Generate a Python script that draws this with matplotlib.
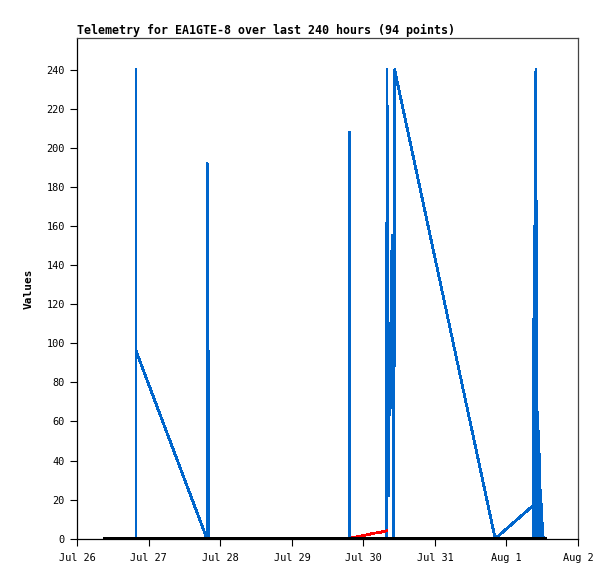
import matplotlib
matplotlib.use("Agg")
import matplotlib.pyplot as plt
import matplotlib.dates as mdates
from datetime import datetime, timedelta

# ---- data (days after Jul 26 00:00, values) ----
base = datetime(2023, 7, 26)

blue_days = [0.820, 0.821, 0.822, 1.812, 1.816, 1.817, 1.818, 1.834, 1.835, 1.836,
             3.800, 3.801, 3.803,
             4.325, 4.330, 4.340, 4.350, 4.360, 4.370, 4.380, 4.400, 4.425, 4.436,
             5.842, 6.373,
             6.380, 6.385, 6.390, 6.403, 6.412, 6.420, 6.430, 6.440, 6.450, 6.458, 6.470, 6.480, 6.495, 6.505, 6.513]
blue_vals = [0, 240, 96, 0, 192, 0, 0, 96, 0, 0,
             0, 208, 0,
             0, 240, 80, 22, 67, 110, 67, 155, 0, 240,
             0, 17,
             0, 160, 0, 225, 240, 0, 65, 0, 55, 40, 0, 25, 0, 8, 0]

red_days = [3.842, 3.95, 4.05, 4.15, 4.25, 4.32]
red_vals = [0.5, 1.3, 2.0, 2.8, 3.4, 4.0]

black_days = [0.387, 1.5, 3.0, 4.5, 6.0, 6.54]
black_vals = [0, 0, 0, 0, 0, 0]

x_ticks_days = [0, 1, 2, 3, 4, 5, 6, 7]
y_ticks = [0, 20, 40, 60, 80, 100, 120, 140, 160, 180, 200, 220, 240]

title = "Telemetry for EA1GTE-8 over last 240 hours (94 points)"

def to_dt(days):
    return [base + timedelta(days=d) for d in days]

plt.rcParams['font.family'] = ['DejaVu Sans Mono']

fig = plt.figure(figsize=(6.15, 5.79), dpi=100)
ax = fig.add_axes([77.3 / 615, (579 - 538.7) / 579, (578 - 77.3) / 615, (538.7 - 38.3) / 579])

ax.plot(to_dt(blue_days), blue_vals, color='#0066cc', lw=1.3, antialiased=False, zorder=2)
ax.plot(to_dt(red_days), red_vals, color='#ff0000', lw=1.3, antialiased=False, zorder=3)
ax.plot(to_dt(black_days), black_vals, color='#000000', lw=2.6, antialiased=False, zorder=4)

ax.set_xlim(base, base + timedelta(days=7))
ax.set_ylim(0, 256)
ax.set_xticks(to_dt(x_ticks_days))
ax.xaxis.set_major_formatter(mdates.DateFormatter('%b %-d'))
ax.set_yticks(y_ticks)

ax.tick_params(axis='both', direction='out', length=5, width=0.8, labelsize=7.4, colors='black')
ax.tick_params(axis='x', pad=5)
ax.tick_params(axis='y', pad=4)

for s in ['top', 'right']:
    ax.spines[s].set_color('#444444')
    ax.spines[s].set_linewidth(0.9)
for s in ['left', 'bottom']:
    ax.spines[s].set_color('black')
    ax.spines[s].set_linewidth(0.9)

ax.set_title(title, loc='left', fontsize=8.4, fontweight='bold', pad=3)
ax.set_ylabel('Values', fontsize=8, fontweight='bold', labelpad=9)

fig.savefig('out.png', dpi=100)
